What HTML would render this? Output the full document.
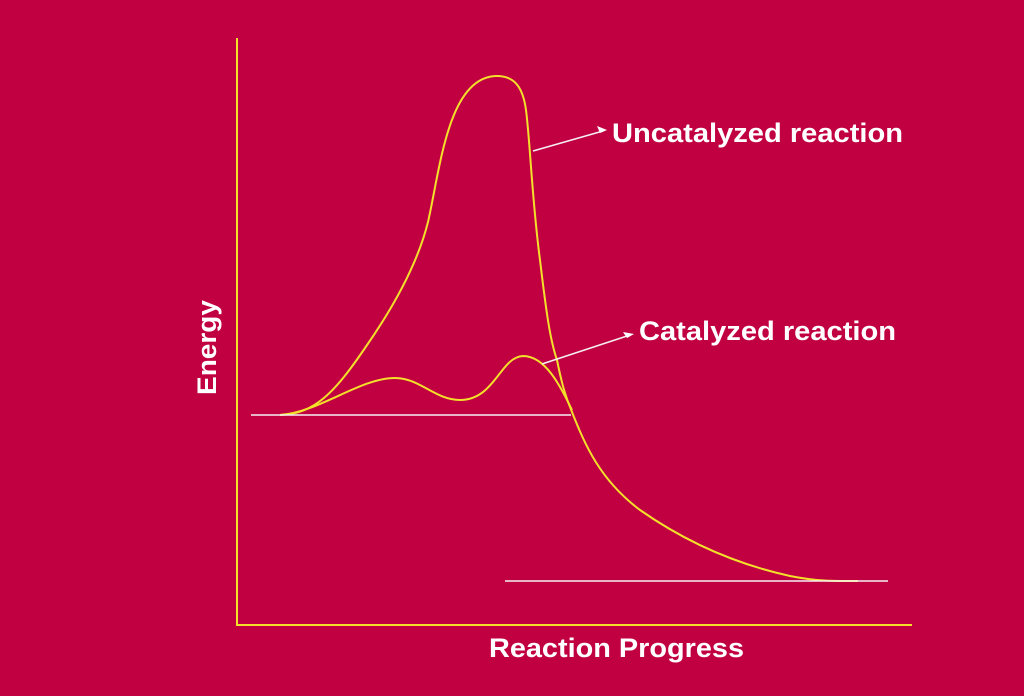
<!DOCTYPE html>
<html><head><meta charset="utf-8"><style>html,body{margin:0;padding:0;background:#c10042;}svg{display:block}</style></head>
<body>
<svg width="1024" height="696" viewBox="0 0 1024 696" xmlns="http://www.w3.org/2000/svg">
<rect width="1024" height="696" fill="#c10042"/>
<g stroke="#f2e02a" stroke-width="2" fill="none">
<line x1="237" y1="38" x2="237" y2="626"/>
<line x1="236" y1="625" x2="912" y2="625"/>
<path d="M280,415 C315,414 335,392 365,348 C395,305 418,262 428,222 C440,170 448,76 497,76 C515,76 523,88 526,110 C530,140 532,200 540,260 C546,310 550,340 557,360 C562,385 566,398 572,412 C585,445 600,480 640,510 C690,545 740,565 790,576 C820,582 840,581 858,581"/>
<path d="M280,415 C320,412 360,378 395,378 C420,378 435,400 460,400 C495,400 500,357 523,356 C545,356 560,385 572,410"/>
</g>
<g stroke="#f4f0f4" stroke-width="1.6" fill="none">
<line x1="251" y1="415" x2="571" y2="415"/>
<line x1="505" y1="581" x2="888" y2="581"/>
<line x1="533" y1="151" x2="603" y2="131"/>
<line x1="542" y1="364" x2="630" y2="335"/>
</g>
<path d="M607,130 L597,126 L600,133 Z" fill="#fff"/>
<path d="M634,334 L623,332 L627,338 Z" fill="#fff"/>
<g fill="#fff" font-family="Liberation Sans, sans-serif" font-weight="bold" font-size="27">
<text x="612" y="142" textLength="291" lengthAdjust="spacingAndGlyphs">Uncatalyzed reaction</text>
<text x="639" y="340" textLength="257" lengthAdjust="spacingAndGlyphs">Catalyzed reaction</text>
<text x="489" y="657" textLength="255" lengthAdjust="spacingAndGlyphs">Reaction Progress</text>
<text transform="translate(216,395) rotate(-90)" textLength="95" lengthAdjust="spacingAndGlyphs">Energy</text>
</g>
</svg>
</body></html>
